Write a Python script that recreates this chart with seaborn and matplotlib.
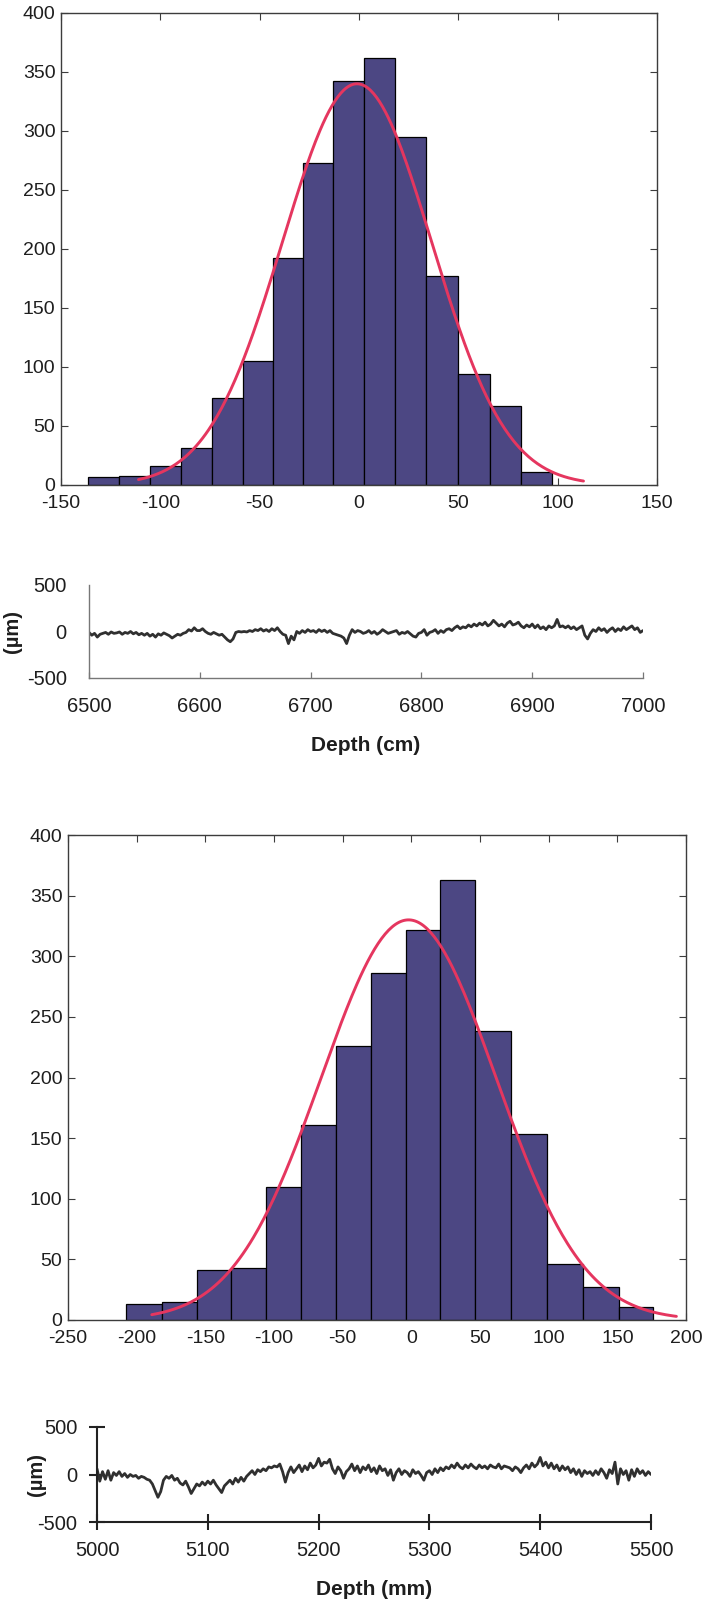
import numpy as np
import pandas as pd
import matplotlib
matplotlib.use("Agg")
import matplotlib.pyplot as plt
import seaborn as sns

sns.set_theme(style="white")
plt.rcParams['font.family'] = ['Liberation Sans', 'DejaVu Sans']
plt.rcParams['axes.unicode_minus'] = False

# ---- Section 1: deviations in the cm record ----
hist1_edges = [-136.4, -120.7, -105.1, -89.4, -74.0, -58.6, -43.1, -28.2,
               -12.9, 2.6, 18.1, 33.8, 49.6, 65.8, 81.6, 97.2]
hist1_counts = [7, 8, 16, 31, 74, 105, 192, 273, 342, 362, 295, 177, 94, 67, 11]
# normal fit: mean, standard deviation, peak height, drawn range
fit1_mean, fit1_sd, fit1_peak = -1.0, 37.5, 340.0
fit1_range = (-111.0, 113.0)
hist1_xticks = [-150, -100, -50, 0, 50, 100, 150]
hist1_yticks = [0, 50, 100, 150, 200, 250, 300, 350, 400]

trace1_depth_start, trace1_depth_step = 6500.0, 2.5
trace1_values = [
    -10, -40, -20, -60, -30, -20, -10, -30, -5, -20,
    -15, -5, -30, -10, -20, 0, -25, -10, -35, -20,
    -40, -20, -50, -30, -60, -25, -40, -15, -30, -45,
    -70, -50, -30, -40, -20, -10, 20, 5, 40, 10,
    10, 30, 0, -20, -30, -10, -25, -40, -30, -60,
    -90, -110, -80, -10, 0, -5, 0, -5, 10, 0,
    20, 10, 30, 5, 20, 0, 30, 10, 40, 0,
    -30, -40, -130, -50, -90, 0, -20, 10, -10, 20,
    0, 10, -10, 20, 0, 15, -10, 10, -20, -30,
    -40, -50, -70, -130, -40, 20, -10, 10, 0, -20,
    -10, 10, -20, 0, -30, -10, 20, 0, -20, -10,
    0, 10, -30, -10, -20, 0, -25, -50, -60, -20,
    -10, 20, -40, -10, 0, 20, -20, 10, -10, 20,
    30, 10, 40, 60, 30, 50, 40, 70, 50, 80,
    60, 90, 70, 100, 60, 80, 120, 90, 60, 80,
    50, 90, 110, 70, 80, 100, 60, 40, 70, 50,
    80, 40, 70, 30, 50, 20, 60, 40, 60, 130,
    50, 60, 40, 60, 30, 50, 20, 40, 60, -40,
    -80, -20, 20, 0, 40, 10, 30, -10, 20, 40,
    0, 30, 10, 50, 20, 40, 60, 20, 40, -10,
    10,
]
trace1_xticks = [6500, 6600, 6700, 6800, 6900, 7000]

# ---- Section 2: deviations in the mm record ----
hist2_edges = [-207.8, -181.9, -156.2, -131.0, -105.6, -80.1, -54.9, -29.7,
               -4.2, 21.2, 46.4, 72.5, 98.7, 124.8, 151.0, 176.1]
hist2_counts = [13, 15, 41, 43, 110, 161, 226, 286, 322, 363, 238, 153, 46, 27, 11]
fit2_mean, fit2_sd, fit2_peak = -2.0, 63.6, 330.0
fit2_range = (-189.0, 193.0)
hist2_xticks = [-250, -200, -150, -100, -50, 0, 50, 100, 150, 200]
hist2_yticks = [0, 50, 100, 150, 200, 250, 300, 350, 400]

trace2_depth_start, trace2_depth_step = 5000.0, 2.5
trace2_values = [
    60, -70, 30, -50, 40, -60, 20, -10, 30, -20,
    10, -30, 0, -20, -10, -40, -20, -30, -50, -60,
    -100, -170, -240, -180, -60, -20, -40, -10, -60, -40,
    -90, -110, -70, -130, -200, -150, -100, -120, -80, -110,
    -70, -100, -60, -110, -150, -190, -120, -90, -60, -100,
    -40, -80, -30, -70, -20, 10, 40, 0, 50, 30,
    60, 40, 80, 70, 90, 80, 110, 30, -80, 20,
    80, 20, 60, 100, 30, 90, 50, 120, 70, 100,
    170, 90, 130, 120, 160, 60, 10, 80, 40, -40,
    30, 60, 110, 40, 90, 20, 80, 50, 100, 30,
    70, 10, 90, 40, 60, -10, 50, -60, 20, 60,
    0, 40, 20, -20, 50, 10, 30, -10, -60, 20,
    40, 0, 60, 20, 70, 40, 80, 60, 100, 70,
    120, 80, 60, 100, 70, 110, 80, 60, 100, 70,
    90, 60, 100, 80, 70, 110, 60, 90, 80, 70,
    40, 80, 60, 20, 70, 100, 60, 120, 80, 110,
    180, 90, 130, 70, 120, 60, 100, 40, 90, 50,
    80, 20, 60, 0, 50, -20, 40, 10, 30, -10,
    40, 0, 60, 20, -40, 50, 10, 130, -100, 60,
    0, 40, -60, 50, -20, 60, 10, 40, -10, 30,
    0,
]
trace2_xticks = [5000, 5100, 5200, 5300, 5400, 5500]
trace_yticks = [-500, 0, 500]

BAR_COLOR = "#4c4783"
FIT_COLOR = "#e5365f"
LINE_COLOR = "#303030"
FRAME_COLOR = "#3c3c3c"
TEXT_COLOR = "#1e1e1e"


def histogram_panel(ax, edges, counts, mean, sd, peak, span, xticks, yticks):
    edge_arr = np.asarray(edges, dtype=float)
    centers = (edge_arr[:-1] + edge_arr[1:]) / 2
    frame = pd.DataFrame({"value": centers, "count": np.asarray(counts, dtype=float)})
    sns.histplot(data=frame, x="value", weights="count", bins=list(edges), ax=ax,
                 color=BAR_COLOR, edgecolor="black", linewidth=0.9, alpha=1.0)
    xs = np.linspace(span[0], span[1], 300)
    fit = pd.DataFrame({"x": xs, "y": peak * np.exp(-0.5 * ((xs - mean) / sd) ** 2)})
    sns.lineplot(data=fit, x="x", y="y", ax=ax, color=FIT_COLOR, linewidth=2.1)
    ax.set_xlim(xticks[0], xticks[-1])
    ax.set_ylim(yticks[0], yticks[-1])
    ax.set_xticks(xticks)
    ax.set_yticks(yticks)
    ax.set_xlabel("")
    ax.set_ylabel("")
    for side in ax.spines.values():
        side.set_visible(True)
        side.set_color(FRAME_COLOR)
        side.set_linewidth(1.0)
    ax.tick_params(direction="in", length=5, width=0.8, colors=FRAME_COLOR,
                   bottom=True, top=True, left=True, right=True,
                   labelsize=14, labelcolor=TEXT_COLOR)
    ax.tick_params(axis="x", pad=7)
    ax.tick_params(axis="y", pad=4)


def trace_panel(ax, start, step, values, xticks, xlabel, tick_style, label_x):
    depth = start + step * np.arange(len(values))
    frame = pd.DataFrame({"depth": depth, "dev": values})
    sns.lineplot(data=frame, x="depth", y="dev", ax=ax, color=LINE_COLOR,
                 linewidth=2.0)
    ax.set_xlim(xticks[0], xticks[-1])
    ax.set_ylim(trace_yticks[0], trace_yticks[-1])
    ax.set_xticks(xticks)
    ax.set_yticks(trace_yticks)
    ax.spines["top"].set_visible(False)
    ax.spines["right"].set_visible(False)
    ax.set_xlabel(xlabel, fontsize=15, fontweight="bold", labelpad=14,
                  color=TEXT_COLOR)
    ax.set_ylabel("(µm)", fontsize=14.5, fontweight="bold", color=TEXT_COLOR)
    ax.yaxis.set_label_coords(label_x, 0.5)
    if tick_style == "cross":
        for s in ("left", "bottom"):
            ax.spines[s].set_color("#222222")
            ax.spines[s].set_linewidth(1.5)
        ax.tick_params(direction="inout", length=12, width=1.5, colors="#222222",
                       bottom=True, left=True, labelsize=14.5, pad=8,
                       labelcolor=TEXT_COLOR)
    else:
        for s in ("left", "bottom"):
            ax.spines[s].set_color("#777777")
            ax.spines[s].set_linewidth(1.0)
        ax.tick_params(axis="x", direction="in", length=4, width=0.9,
                       colors="#777777", bottom=True, labelsize=14.5, pad=14,
                       labelcolor=TEXT_COLOR)
        ax.tick_params(axis="y", left=False, labelsize=14.5, pad=10,
                       labelcolor=TEXT_COLOR)


fig = plt.figure(figsize=(7.05, 16.05), dpi=100)
fig.patch.set_facecolor("white")

W, H = 705.0, 1605.0


def place(left, top, right, bottom):
    return fig.add_axes([left / W, 1 - bottom / H, (right - left) / W, (bottom - top) / H])


ax1 = place(61, 13, 657, 485)
histogram_panel(ax1, hist1_edges, hist1_counts, fit1_mean, fit1_sd, fit1_peak,
                fit1_range, hist1_xticks, hist1_yticks)

ax2 = place(89, 585, 643, 678)
trace_panel(ax2, trace1_depth_start, trace1_depth_step, trace1_values,
            trace1_xticks, "Depth (cm)", "plain", (22 - 89) / 554)

ax3 = place(68, 835, 686, 1320)
histogram_panel(ax3, hist2_edges, hist2_counts, fit2_mean, fit2_sd, fit2_peak,
                fit2_range, hist2_xticks, hist2_yticks)

ax4 = place(97, 1427, 651, 1522)
trace_panel(ax4, trace2_depth_start, trace2_depth_step, trace2_values,
            trace2_xticks, "Depth (mm)", "cross", (46 - 97) / 554)

fig.savefig("out.png", dpi=100, facecolor="white")
